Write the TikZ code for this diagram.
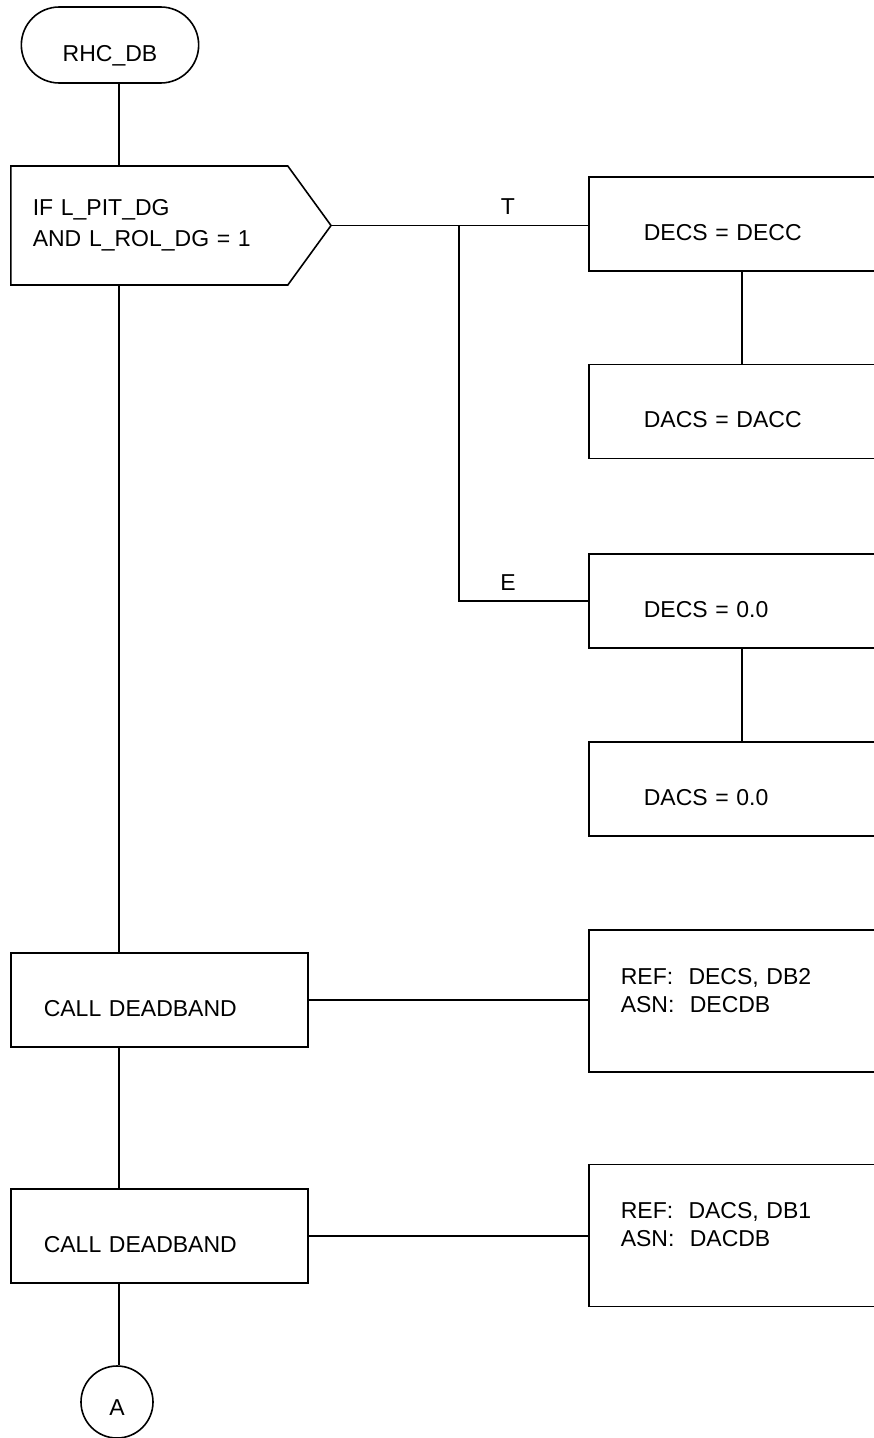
\documentclass[tikz,border=0pt]{standalone}
\usepackage{fontspec}
\setmainfont{Liberation Sans}
\usetikzlibrary{shapes.misc,shapes.symbols}

\begin{document}
\begin{tikzpicture}[
    x=1pt, y=-1pt,
    line width=1.6pt,
    every node/.style={font=\fontsize{23}{28}\selectfont},
    term/.style={draw, rounded rectangle, minimum width=184pt, minimum height=76pt, text height=32.5pt, text depth=0pt},
    decide/.style={draw, signal, signal to=east, signal pointer angle=108, anchor=west, minimum height=119pt, text width=233pt, inner xsep=22pt, align=left, font=\fontsize{23}{31}\selectfont, text height=0pt, text depth=20.5pt},
    stepbox/.style={draw, rectangle, anchor=west, minimum height=94pt, align=left, text height=32.5pt, text depth=0pt},
    callbox/.style={stepbox, text width=231pt, inner xsep=33pt},
    setbox/.style={stepbox, text width=262pt, inner xsep=55pt},
    refbox/.style={stepbox, minimum height=142pt, text width=332pt, inner xsep=32pt, text height=0pt, text depth=33.5pt},
    conn/.style={draw, circle, minimum size=72pt, inner sep=0pt, text height=26.5pt, text depth=0pt}
]
\useasboundingbox (0,0) rectangle (873,1438);
\coordinate (spine) at (119,0);
\coordinate (sub) at (742,0);
\coordinate (fork) at (459,225);

% Entry
\node[term] (start) at (110,45) {RHC\_DB};

% Decision
\node[decide] (dec) at (10,225.5) {IF L\_PIT\_DG\\AND L\_ROL\_DG = 1};
\node (tlabel) at (508,207) {T};
\node (elabel) at (508,583) {E};

% T branch
\node[setbox] (decc) at (588,224) {DECS = DECC};
\node[setbox] (dacc) at (588,411.5) {DACS = DACC};

% E branch
\node[setbox] (dec0) at (588,601) {DECS = 0.0};
\node[setbox] (dac0) at (588,789) {DACS = 0.0};

% Calls
\node[callbox] (call1) at (10,1000) {CALL DEADBAND};
\node[refbox] (ref1) at (588,1001) {REF:\ \ DECS, DB2\\ASN:\ \ DECDB};
\node[callbox] (call2) at (10,1236) {CALL DEADBAND};
\node[refbox] (ref2) at (588,1235.5) {REF:\ \ DACS, DB1\\ASN:\ \ DACDB};

% Exit
\node[conn] (conA) at (117,1402) {A};

% Lines
\draw (start.south -| spine) -- (dec.north -| spine);
\draw (dec.south -| spine) -- (call1.north -| spine);
\draw (call1.south -| spine) -- (call2.north -| spine);
\draw (call2.south -| spine) -- (conA.north -| spine);
\draw (dec.east) -- (decc.west |- dec.east);
\draw (fork) |- (dec0.west);
\draw (decc.south -| sub) -- (dacc.north -| sub);
\draw (dec0.south -| sub) -- (dac0.north -| sub);
\draw (call1.east) -- (ref1.west |- call1.east);
\draw (call2.east) -- (ref2.west |- call2.east);
\end{tikzpicture}
\end{document}
